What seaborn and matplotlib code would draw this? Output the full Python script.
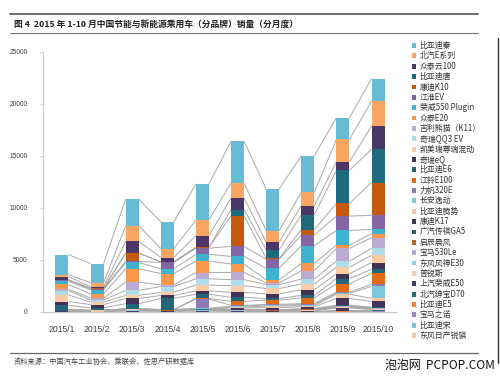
import numpy as np
import pandas as pd
import matplotlib
matplotlib.use("Agg")
import matplotlib.pyplot as plt
from matplotlib.patches import Rectangle
from matplotlib.lines import Line2D
import seaborn as sns

months = ["2015/1", "2015/2", "2015/3", "2015/4", "2015/5",
          "2015/6", "2015/7", "2015/8", "2015/9", "2015/10"]

# legend order (top of stack first)
brands = ["比亚迪秦", "北汽E系列", "众泰云100", "比亚迪唐", "康迪K10", "江淮EV",
          "荣威550 Plugin", "众泰E20", "吉利熊猫（K11）", "奇瑞QQ3 EV", "凯美瑞尊瑞混动",
          "奇瑞eQ", "比亚迪E6", "江铃E100", "力帆320E", "长安逸动", "比亚迪腾势",
          "康迪K17", "广汽传祺GA5", "启辰晨风", "宝马530Le", "东风风神E30", "普锐斯",
          "上汽荣威E50", "北汽绅宝D70", "比亚迪E5", "宝马之诺", "比亚迪宋", "东风日产锐骐"]

byd_qin      = [1920, 1850, 2570, 2560, 3460, 4010, 4010, 3520, 2080, 2150]
baic_e       = [200, 380, 1510, 860, 1510, 1440, 1120, 1280, 2150, 2400]
zotye_yun100 = [300, 160, 1120, 420, 1120, 1120, 730, 870, 830, 2240]
byd_tang     = [0, 0, 0, 0, 0, 580, 810, 1440, 3170, 3200]
kandi_k10    = [50, 40, 800, 60, 80, 2950, 100, 510, 1220, 3150]
jac_ev       = [100, 100, 100, 600, 600, 960, 860, 1030, 1380, 1350]
roewe_550    = [300, 400, 600, 460, 650, 740, 1120, 1700, 1410, 420]
zotye_e20    = [460, 400, 1280, 1100, 1100, 800, 300, 700, 320, 380]
geely_k11    = [130, 180, 800, 150, 600, 700, 150, 800, 1220, 1030]
chery_qq3    = [420, 200, 480, 560, 600, 580, 380, 480, 580, 670]
camry_hybrid = [640, 240, 300, 300, 560, 640, 510, 540, 640, 700]
chery_eq     = [360, 300, 500, 280, 320, 480, 450, 560, 450, 640]
byd_e6       = [440, 250, 500, 1080, 400, 390, 150, 240, 510, 400]
jmc_e100     = [0, 0, 0, 0, 60, 390, 420, 540, 800, 1050]
lifan_320e   = [0, 0, 0, 0, 900, 60, 60, 100, 100, 200]
changan_ev   = [0, 0, 0, 0, 40, 100, 100, 100, 100, 1150]
denza        = [40, 30, 60, 40, 60, 80, 150, 100, 400, 300]
kandi_k17    = [0, 0, 0, 0, 0, 150, 200, 200, 650, 540]
gac_ga5      = [20, 20, 30, 20, 30, 30, 30, 30, 50, 60]
venucia      = [30, 20, 40, 30, 50, 60, 50, 60, 80, 60]
bmw_530le    = [0, 0, 0, 0, 0, 0, 0, 20, 40, 30]
dfm_e30      = [20, 20, 30, 30, 30, 30, 30, 40, 40, 30]
prius        = [40, 30, 60, 50, 60, 60, 50, 60, 60, 50]
roewe_e50    = [30, 20, 60, 40, 60, 40, 40, 60, 250, 80]
baic_d70     = [0, 0, 0, 0, 0, 0, 0, 20, 40, 30]
byd_e5       = [0, 0, 0, 0, 0, 0, 0, 0, 60, 60]
bmw_zinoro   = [0, 0, 0, 0, 0, 0, 0, 0, 20, 30]
byd_song     = [0, 0, 0, 0, 0, 0, 0, 0, 0, 20]
nissan_ruiqi = [20, 20, 20, 20, 20, 20, 20, 20, 20, 20]

series = [byd_qin, baic_e, zotye_yun100, byd_tang, kandi_k10, jac_ev, roewe_550,
          zotye_e20, geely_k11, chery_qq3, camry_hybrid, chery_eq, byd_e6, jmc_e100,
          lifan_320e, changan_ev, denza, kandi_k17, gac_ga5, venucia, bmw_530le,
          dfm_e30, prius, roewe_e50, baic_d70, byd_e5, bmw_zinoro, byd_song, nissan_ruiqi]

colors = ["#67BBD5", "#F9A663", "#4A3766", "#1F6B7E", "#C4590E", "#8466A6",
          "#3FB2CF", "#F7974B", "#BBAAD4", "#AEDCE8", "#FBCBA6",
          "#423258", "#23667A", "#E26B12", "#8E79B3", "#7DC7DC", "#F9C7A3",
          "#433358", "#226275", "#B8651E", "#B8A9D1", "#8CCDE0", "#F9CCAA",
          "#473660", "#246E80", "#EF8736", "#9B86BE", "#7BC4DA", "#F6C4A0"]

rows = []
for b, vals in zip(brands, series):
    for i, v in enumerate(vals):
        rows.append({"mi": i, "brand": b, "value": v})
df = pd.DataFrame(rows)

sns.set_theme(style="white")
plt.rcParams["font.family"] = ["Noto Sans CJK SC", "DejaVu Sans"]

W, H = 500, 377
fig = plt.figure(figsize=(W / 100, H / 100), dpi=100)
ax = fig.add_axes([43 / W, 1 - 312 / H, (397 - 43) / W, (312 - 52) / H])

bw = 0.37
# stack: first legend entry ends up on top
sns.histplot(data=df, x="mi", weights="value", hue="brand",
             hue_order=brands, multiple="stack", discrete=True, shrink=bw,
             palette=colors, alpha=1, linewidth=0, legend=False, ax=ax)

# series lines (connect tops of each series between adjacent bars)
stack_order = brands[::-1]
wide = df.pivot(index="brand", columns="mi", values="value").loc[stack_order]
tops = wide.cumsum(axis=0)
for b in stack_order:
    t = tops.loc[b].values
    for i in range(len(months) - 1):
        ax.plot([i + bw / 2, i + 1 - bw / 2], [t[i], t[i + 1]],
                color="#A8A8A8", lw=0.7, zorder=0.5, solid_capstyle="butt")

ax.set_xlim(-0.54, 9.54)
ax.set_ylim(0, 25000)
ax.set_xticks(range(len(months)))
ax.set_xticklabels(months)
ax.set_yticks(range(0, 25001, 5000))
ax.set_xlabel("")
ax.set_ylabel("")
for s in ["top", "right"]:
    ax.spines[s].set_visible(False)
for s in ["left", "bottom"]:
    ax.spines[s].set_color("#C8C8C8")
    ax.spines[s].set_linewidth(0.8)
ax.tick_params(axis="y", left=True, length=2, width=0.6, color="#C8C8C8",
               labelsize=4.8, labelcolor="#404040", pad=9)
ax.tick_params(axis="x", bottom=False, labelsize=6.2, labelcolor="#404040", pad=3)
for lab in ax.get_xticklabels() + ax.get_yticklabels():
    lab.set_family(["Liberation Sans", "DejaVu Sans"])

# legend (manual, one row per brand)
y0 = 45.5
dy = 10.36
for k, (b, c) in enumerate(zip(brands, colors)):
    yc = y0 + k * dy
    fig.add_artist(Rectangle((411.5 / W, 1 - (yc + 2.4) / H), 4.8 / W, 4.8 / H,
                             transform=fig.transFigure, facecolor=c, edgecolor="none"))
    fig.text(419.5 / W, 1 - yc / H, b, fontsize=5.7, color="#333333",
             ha="left", va="center")

# title and frame lines
fig.add_artist(Line2D([10 / W, 478 / W], [1 - 14 / H, 1 - 14 / H], color="#555555", lw=1.2))
fig.add_artist(Line2D([10 / W, 478 / W], [1 - 33 / H, 1 - 33 / H], color="#777777", lw=0.8))
fig.text(14 / W, 1 - 24.5 / H, "图 4  2015 年 1-10 月中国节能与新能源乘用车（分品牌）销量（分月度）",
         fontsize=6.3, fontweight="bold", color="#222222", ha="left", va="center")
fig.add_artist(Line2D([497.5 / W, 497.5 / W], [1 - 38 / H, 1 - 363 / H], color="#333333", lw=1.0))

fig.add_artist(Line2D([10 / W, 478 / W], [1 - 352.5 / H, 1 - 352.5 / H], color="#666666", lw=0.9))
fig.text(14 / W, 1 - 362 / H, "资料来源：中国汽车工业协会、乘联会、佐思产研数据库",
         fontsize=5.2, color="#444444", ha="left", va="center")
fig.text(495 / W, 1 - 366 / H, "泡泡网  PCPOP.COM", fontsize=8.6, color="#111111",
         ha="right", va="center")

fig.savefig("out.png", dpi=100)
